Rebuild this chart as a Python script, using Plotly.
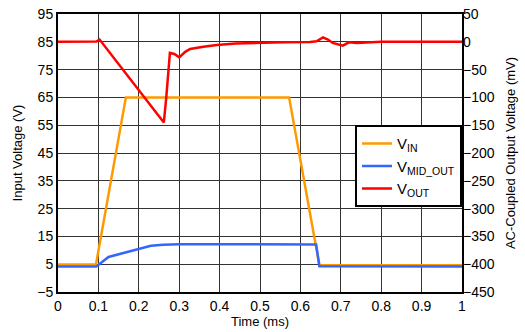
import plotly.graph_objects as go

# Time base (ms) and traces
t_vin = [0.0, 0.094, 0.168, 0.572, 0.647, 1.0]
v_vin = [4.9, 4.9, 65.0, 65.0, 4.6, 4.6]

t_mid = [0.0, 0.095, 0.125, 0.16, 0.2, 0.23, 0.26, 0.3, 0.639, 0.647, 1.0]
v_mid = [4.2, 4.2, 7.6, 8.9, 10.6, 11.6, 12.0, 12.2, 12.1, 4.3, 4.2]

t_out = [0.0, 0.095, 0.103, 0.262, 0.268, 0.277, 0.288, 0.300, 0.315, 0.327, 0.36,
         0.393, 0.44, 0.492, 0.56, 0.624, 0.64, 0.656, 0.668, 0.68, 0.693, 0.705,
         0.72, 0.74, 0.8, 1.0]
v_out = [0.0, 0.5, 4.0, -145.0, -100.0, -20.0, -22.0, -28.0, -18.0, -13.0, -9.0,
         -5.8, -3.0, -1.6, -0.8, -0.4, 1.0, 8.0, 4.0, -2.0, -5.0, -7.0,
         -1.0, -2.0, 0.0, 0.0]

x_ticks = [0, 0.1, 0.2, 0.3, 0.4, 0.5, 0.6, 0.7, 0.8, 0.9, 1]
x_labels = ["0", "0.1", "0.2", "0.3", "0.4", "0.5", "0.6", "0.7", "0.8", "0.9", "1"]

fig = go.Figure()
fig.add_trace(go.Scatter(x=t_vin, y=v_vin, mode="lines", name="V<sub>IN</sub>",
                         line=dict(color="#FF9900", width=2.5)))
fig.add_trace(go.Scatter(x=t_mid, y=v_mid, mode="lines", name="V<sub>MID_OUT</sub>",
                         line=dict(color="#3366FF", width=2.5)))
fig.add_trace(go.Scatter(x=t_out, y=v_out, mode="lines", name="V<sub>OUT</sub>",
                         yaxis="y2", line=dict(color="#FF0000", width=2.5)))

font = "Liberation Sans, Arial, sans-serif"
fig.update_layout(
    width=525, height=332,
    margin=dict(l=58, r=63, t=14, b=40, autoexpand=False),
    paper_bgcolor="white", plot_bgcolor="white",
    font=dict(family=font, size=14, color="black"),
    showlegend=True,
    legend=dict(x=1, xanchor="right", y=0.6, yanchor="top",
                bgcolor="white", bordercolor="black", borderwidth=2,
                font=dict(size=15), tracegroupgap=0),
    xaxis=dict(range=[0, 1], tickvals=x_ticks, ticktext=x_labels,
               showgrid=True, gridcolor="#333333", gridwidth=1,
               showline=True, linecolor="black", linewidth=2, mirror=True,
               ticks="", zeroline=False, automargin=False,
               title=dict(text="Time (ms)", font=dict(size=13), standoff=2)),
    yaxis=dict(range=[-5, 95], tick0=-5, dtick=10,
               showgrid=True, gridcolor="#333333", gridwidth=1,
               showline=True, linecolor="black", linewidth=2, mirror=True,
               ticks="", zeroline=False, automargin=False,
               title=dict(text="Input Voltage (V)", font=dict(size=13), standoff=12)),
    yaxis2=dict(range=[-450, 50], tick0=-450, dtick=50, overlaying="y", side="right",
                showgrid=False, zeroline=False, ticks="", automargin=False,
                title=dict(text="AC-Coupled Output Voltage (mV)", font=dict(size=13),
                           standoff=12)),
)

fig.write_html("out.html")
